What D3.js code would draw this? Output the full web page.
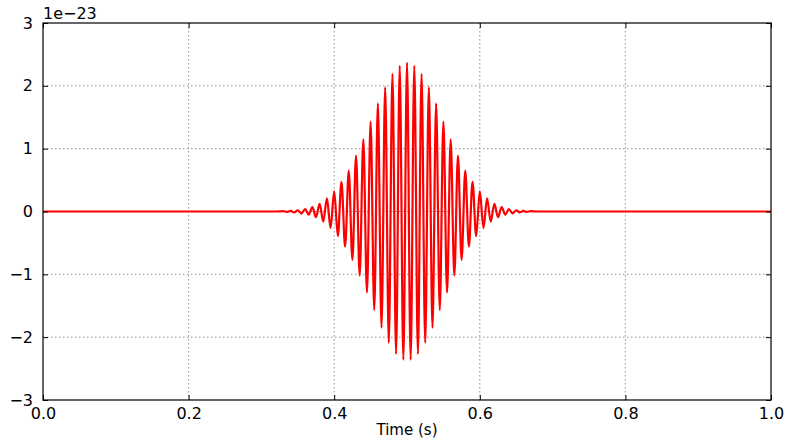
<!DOCTYPE html>
<html>
<head>
<meta charset="utf-8">
<script src="https://cdn.jsdelivr.net/npm/d3@7"></script>
<style>
  body { margin: 0; background: #fff; }
  text { font-family: "DejaVu Sans", sans-serif; fill: #000; }
</style>
</head>
<body>
<svg id="chart" width="786" height="439"></svg>
<script>
// extrema of the strain signal (units of 1e-23)
var times = [
  0.0, 0.320,
  0.330, 0.335, 0.340, 0.345, 0.350, 0.355, 0.360, 0.365, 0.370, 0.375,
  0.380, 0.385, 0.390, 0.395, 0.400, 0.405, 0.410, 0.415, 0.420, 0.425,
  0.430, 0.435, 0.440, 0.445, 0.450, 0.455, 0.460, 0.465, 0.470, 0.475,
  0.480, 0.485, 0.490, 0.495, 0.500, 0.505, 0.510, 0.515, 0.520, 0.525,
  0.530, 0.535, 0.540, 0.545, 0.550, 0.555, 0.560, 0.565, 0.570, 0.575,
  0.580, 0.585, 0.590, 0.595, 0.600, 0.605, 0.610, 0.615, 0.620, 0.625,
  0.630, 0.635, 0.640, 0.645, 0.650, 0.655, 0.660, 0.665, 0.670,
  0.680, 1.0
];
var strain = [
  0, 0,
  0.005, -0.007, 0.01, -0.015, 0.02, -0.03, 0.04, -0.05, 0.07, -0.09,
  0.12, -0.16, 0.21, -0.26, 0.32, -0.39, 0.47, -0.56, 0.65, -0.77,
  0.89, -1.02, 1.15, -1.29, 1.43, -1.57, 1.72, -1.85, 1.98, -2.09,
  2.19, -2.27, 2.32, -2.36, 2.37, -2.36, 2.32, -2.27, 2.19, -2.09,
  1.98, -1.85, 1.72, -1.57, 1.43, -1.29, 1.15, -1.02, 0.89, -0.77,
  0.65, -0.56, 0.47, -0.39, 0.32, -0.26, 0.21, -0.16, 0.12, -0.09,
  0.07, -0.05, 0.04, -0.03, 0.02, -0.015, 0.01, -0.007, 0.005,
  0, 0
];
var xTicks = [0, 0.2, 0.4, 0.6, 0.8, 1.0];
var yTicks = [-3, -2, -1, 0, 1, 2, 3];

var svg = d3.select('#chart');
var plotLeft = 43, plotRight = 771, plotTop = 23, plotBottom = 400;

var x = d3.scaleLinear().domain([0, 1]).range([plotLeft, plotRight]);
var y = d3.scaleLinear().domain([-3, 3]).range([plotBottom, plotTop]);

// grid
svg.append('g')
  .selectAll('line')
  .data(xTicks.slice(1, -1))
  .enter()
  .append('line')
  .attr('x1', d => x(d)).attr('x2', d => x(d))
  .attr('y1', plotTop).attr('y2', plotBottom)
  .attr('stroke', '#777').attr('stroke-width', 0.8)
  .attr('stroke-dasharray', '1.5,2.5');

svg.append('g')
  .selectAll('line')
  .data(yTicks.slice(1, -1))
  .enter()
  .append('line')
  .attr('x1', plotLeft).attr('x2', plotRight)
  .attr('y1', d => y(d)).attr('y2', d => y(d))
  .attr('stroke', '#777').attr('stroke-width', 0.8)
  .attr('stroke-dasharray', '1.5,2.5');

// signal
var line = d3.line()
  .x((d, i) => x(times[i]))
  .y(d => y(d))
  .curve(d3.curveMonotoneX);

svg.append('path')
  .datum(strain)
  .attr('d', line)
  .attr('fill', 'none')
  .attr('stroke', '#f00')
  .attr('stroke-width', 2.2)
  .attr('stroke-linejoin', 'round');

// axes, ticks pointing inward on all sides
var fmtX = d3.format('.1f');
var fmtY = d => d3.format('d')(d).replace('-', '\u2212');

svg.append('g')
  .attr('transform', 'translate(0,' + plotBottom + ')')
  .call(d3.axisBottom(x).tickValues(xTicks).tickFormat(fmtX).tickSizeInner(-5).tickSizeOuter(0).tickPadding(8));
svg.append('g')
  .attr('transform', 'translate(0,' + plotTop + ')')
  .call(d3.axisTop(x).tickValues(xTicks).tickFormat('').tickSizeInner(-5).tickSizeOuter(0));
svg.append('g')
  .attr('transform', 'translate(' + plotLeft + ',0)')
  .call(d3.axisLeft(y).tickValues(yTicks).tickFormat(fmtY).tickSizeInner(-5).tickSizeOuter(0).tickPadding(10));
svg.append('g')
  .attr('transform', 'translate(' + plotRight + ',0)')
  .call(d3.axisRight(y).tickValues(yTicks).tickFormat('').tickSizeInner(-5).tickSizeOuter(0));

svg.selectAll('.domain').remove();
svg.selectAll('.tick text').attr('font-size', 16).attr('font-family', '"DejaVu Sans", sans-serif').attr('fill', '#000');

svg.append('rect')
  .attr('x', plotLeft).attr('y', plotTop)
  .attr('width', plotRight - plotLeft).attr('height', plotBottom - plotTop)
  .attr('fill', 'none').attr('stroke', '#000').attr('stroke-width', 1.2);

svg.append('text')
  .attr('x', plotLeft).attr('y', 19)
  .attr('font-size', 16)
  .text('1e\u221223');

svg.append('text')
  .attr('x', (plotLeft + plotRight) / 2).attr('y', 435)
  .attr('text-anchor', 'middle')
  .attr('font-size', 15)
  .text('Time (s)');
</script>
</body>
</html>
